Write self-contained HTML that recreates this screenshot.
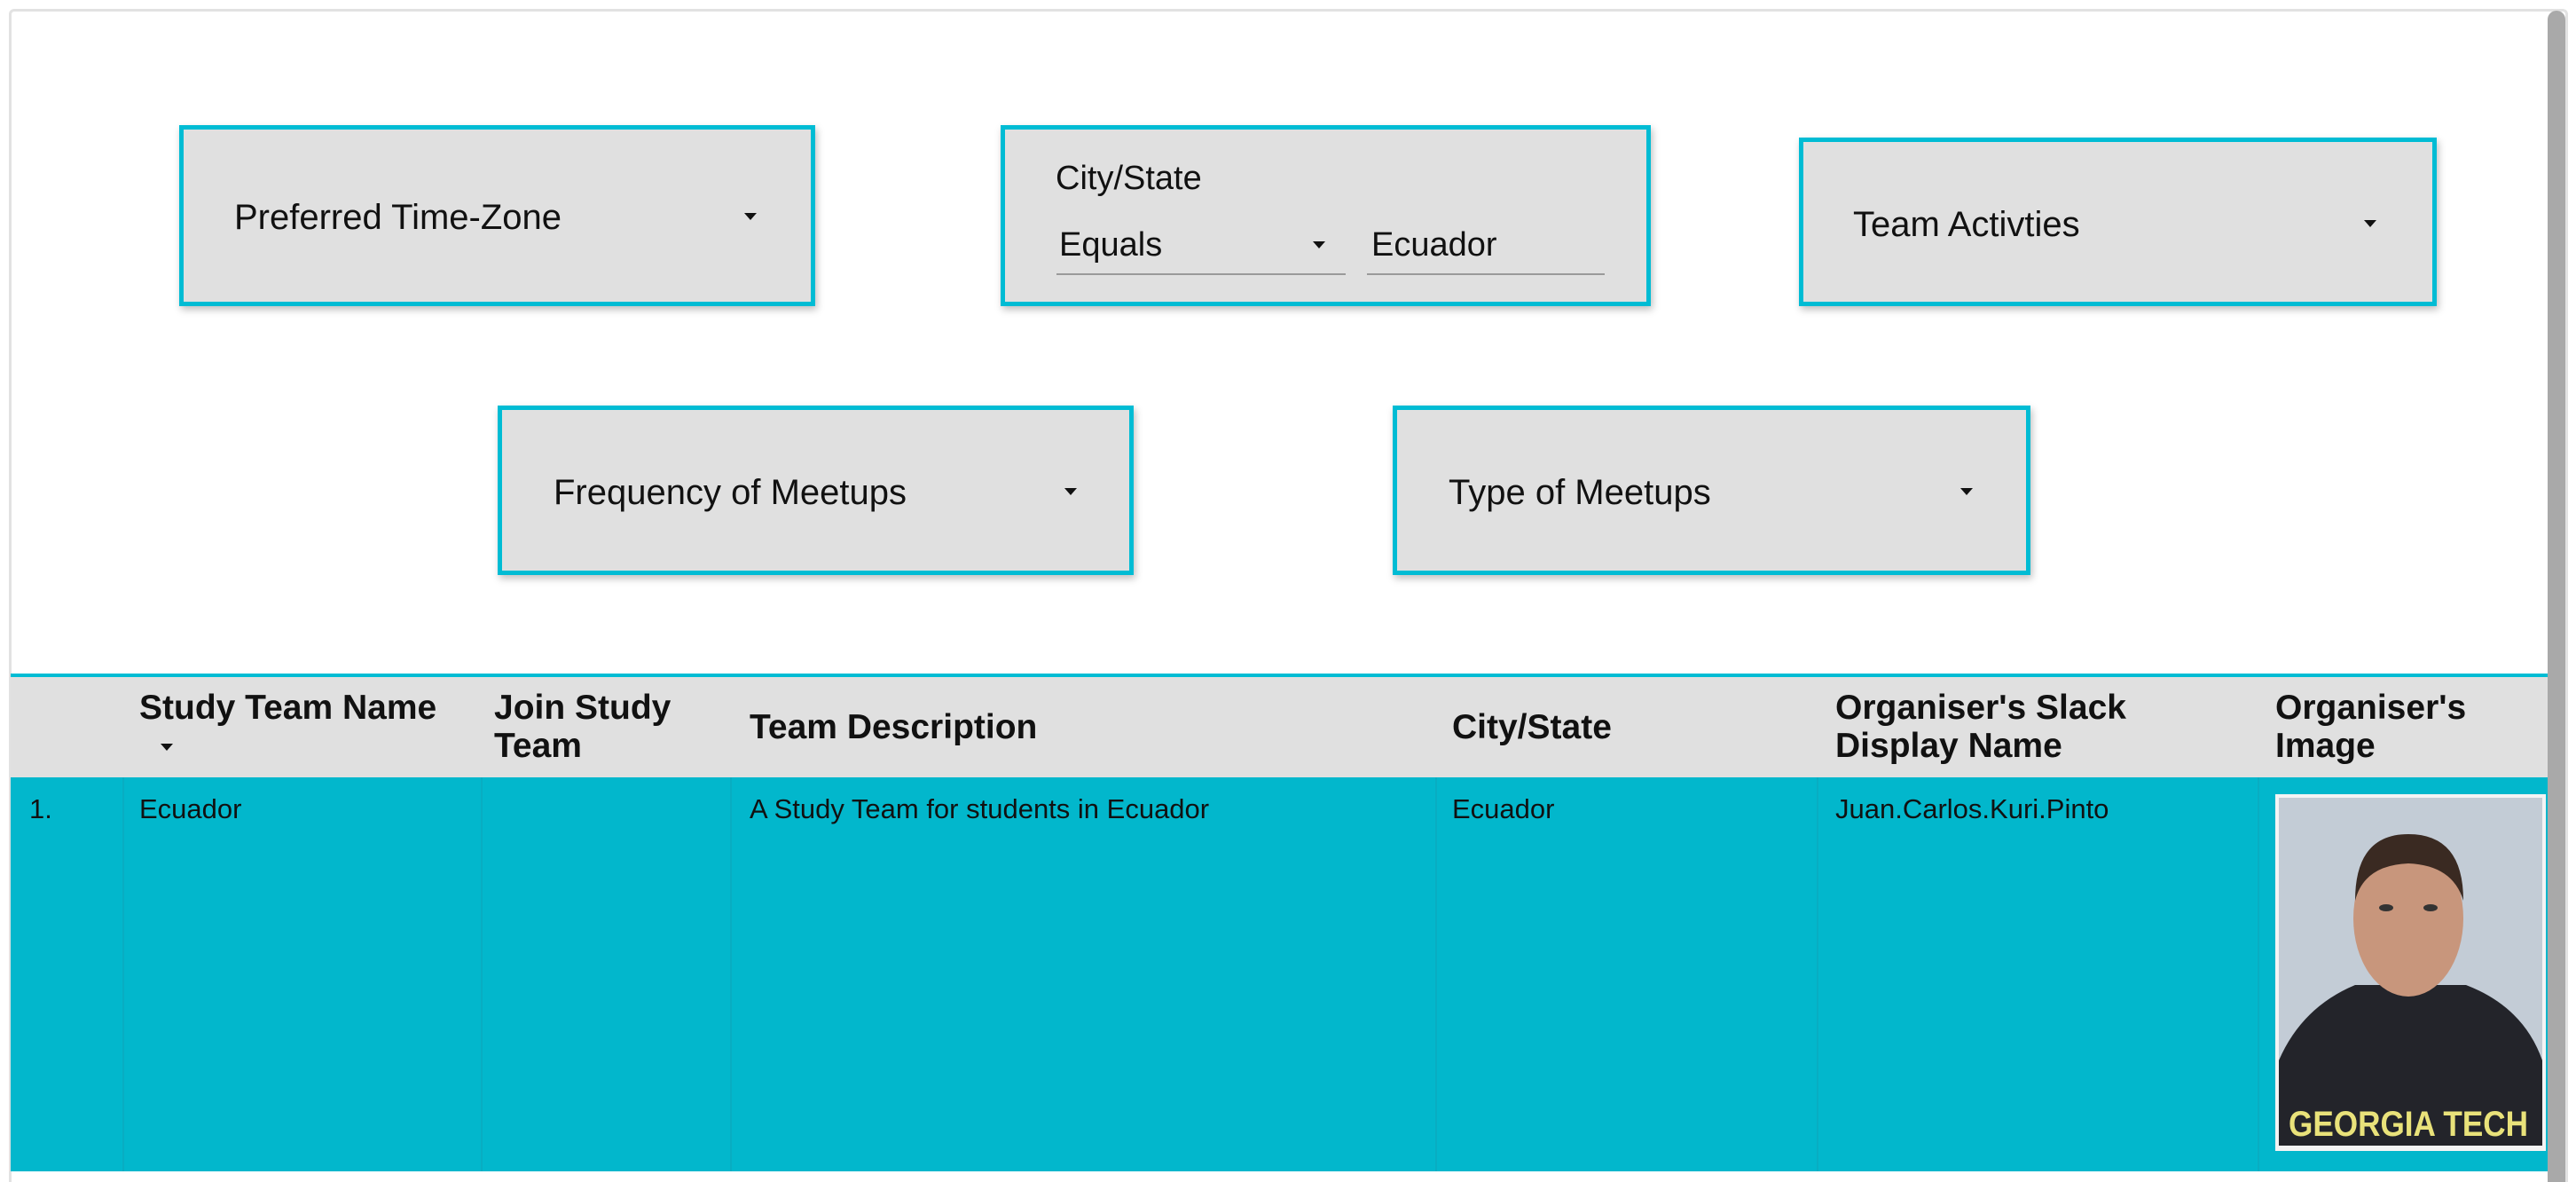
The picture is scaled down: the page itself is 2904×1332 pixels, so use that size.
<!DOCTYPE html>
<html style="width:2904px;height:1332px;overflow:hidden"><head><meta charset="utf-8"><style>
*{margin:0;padding:0;box-sizing:border-box}
body{width:2904px;height:1332px;background:#fff;position:relative;overflow:hidden;font-family:"Liberation Sans",sans-serif;color:#111}
.frame{position:absolute;left:10px;top:10px;width:2885px;height:1322px;border:3px solid #e2e2e2;border-bottom:none;border-radius:6px 6px 0 0}
.sb{position:absolute;left:2872px;top:12px;width:20px;height:1320px;background:#a9a9a9;border-radius:10px 10px 0 0}
.box{position:absolute;background:#e0e0e0;border:5px solid #00bcd4;box-shadow:2px 4px 8px rgba(0,0,0,.25)}
.t{position:absolute;font-size:40px;white-space:nowrap;line-height:1}
.arr{position:absolute;width:0;height:0;border-left:7px solid transparent;border-right:7px solid transparent;border-top:8px solid #111}
.ul{position:absolute;height:2px;background:#9a9a9a}
.hdr{position:absolute;left:12px;top:759px;width:2860px;height:117px;background:#e0e0e0;border-top:4px solid #00bcd4}
.row{position:absolute;left:12px;top:876px;width:2860px;height:444px;background:#02b7cc}
.vl{position:absolute;top:876px;height:444px;width:2px;background:#08adc2}
.h{position:absolute;font-weight:bold;font-size:39px;line-height:43px;white-space:nowrap}
.c{position:absolute;font-size:31px;line-height:1;white-space:nowrap;top:896px}
</style></head><body>
<div class="frame"></div>
<div class="sb"></div>

<div class="box" style="left:202px;top:141px;width:717px;height:204px"></div>
<div class="t" style="left:264px;top:225px">Preferred Time-Zone</div>
<div class="arr" style="left:839px;top:240px"></div>

<div class="box" style="left:1128px;top:141px;width:733px;height:204px"></div>
<div class="t" style="left:1190px;top:182px;font-size:38px">City/State</div>
<div class="t" style="left:1194px;top:257px;font-size:38px">Equals</div>
<div class="arr" style="left:1480px;top:272px"></div>
<div class="ul" style="left:1191px;top:308px;width:326px"></div>
<div class="t" style="left:1546px;top:257px;font-size:38px">Ecuador</div>
<div class="ul" style="left:1541px;top:308px;width:268px"></div>

<div class="box" style="left:2028px;top:155px;width:719px;height:190px"></div>
<div class="t" style="left:2089px;top:233px">Team Activties</div>
<div class="arr" style="left:2665px;top:248px"></div>

<div class="box" style="left:561px;top:457px;width:717px;height:191px"></div>
<div class="t" style="left:624px;top:535px">Frequency of Meetups</div>
<div class="arr" style="left:1200px;top:550px"></div>

<div class="box" style="left:1570px;top:457px;width:719px;height:191px"></div>
<div class="t" style="left:1633px;top:535px">Type of Meetups</div>
<div class="arr" style="left:2210px;top:550px"></div>

<div class="hdr"></div>
<div class="row"></div>
<div class="vl" style="left:138px"></div>
<div class="vl" style="left:542px"></div>
<div class="vl" style="left:823px"></div>
<div class="vl" style="left:1618px"></div>
<div class="vl" style="left:2048px"></div>
<div class="vl" style="left:2545px"></div>

<div class="h" style="left:157px;top:776px">Study Team Name</div>
<div class="arr" style="left:181px;top:838px"></div>
<div class="h" style="left:557px;top:776px">Join Study<br>Team</div>
<div class="h" style="left:845px;top:798px">Team Description</div>
<div class="h" style="left:1637px;top:798px">City/State</div>
<div class="h" style="left:2069px;top:776px">Organiser's Slack<br>Display Name</div>
<div class="h" style="left:2565px;top:776px">Organiser's<br>Image</div>

<div class="c" style="left:33px">1.</div>
<div class="c" style="left:157px">Ecuador</div>
<div class="c" style="left:845px">A Study Team for students in Ecuador</div>
<div class="c" style="left:1637px">Ecuador</div>
<div class="c" style="left:2069px">Juan.Carlos.Kuri.Pinto</div>

<svg style="position:absolute;left:2565px;top:895px" width="305" height="402" viewBox="0 0 305 402">
<rect width="305" height="402" fill="#f4f4f4"/>
<rect x="4" y="4" width="297" height="392" fill="#c3ccd6"/>
<path d="M4 396 L4 300 Q30 240 90 215 L215 215 Q280 240 301 300 L301 396 Z" fill="#23242a"/>
<ellipse cx="150" cy="140" rx="62" ry="88" fill="#c8967c"/>
<path d="M90 120 Q90 45 150 45 Q212 45 212 120 Q200 80 150 78 Q100 80 90 120Z" fill="#3a2a22"/>
<ellipse cx="125" cy="128" rx="8" ry="4" fill="#333"/>
<ellipse cx="175" cy="128" rx="8" ry="4" fill="#333"/>
<text x="150" y="385" font-family="Liberation Sans" font-weight="bold" font-size="40" fill="#e9e27a" text-anchor="middle" textLength="270" lengthAdjust="spacingAndGlyphs">GEORGIA TECH</text>
</svg>
</body></html>
